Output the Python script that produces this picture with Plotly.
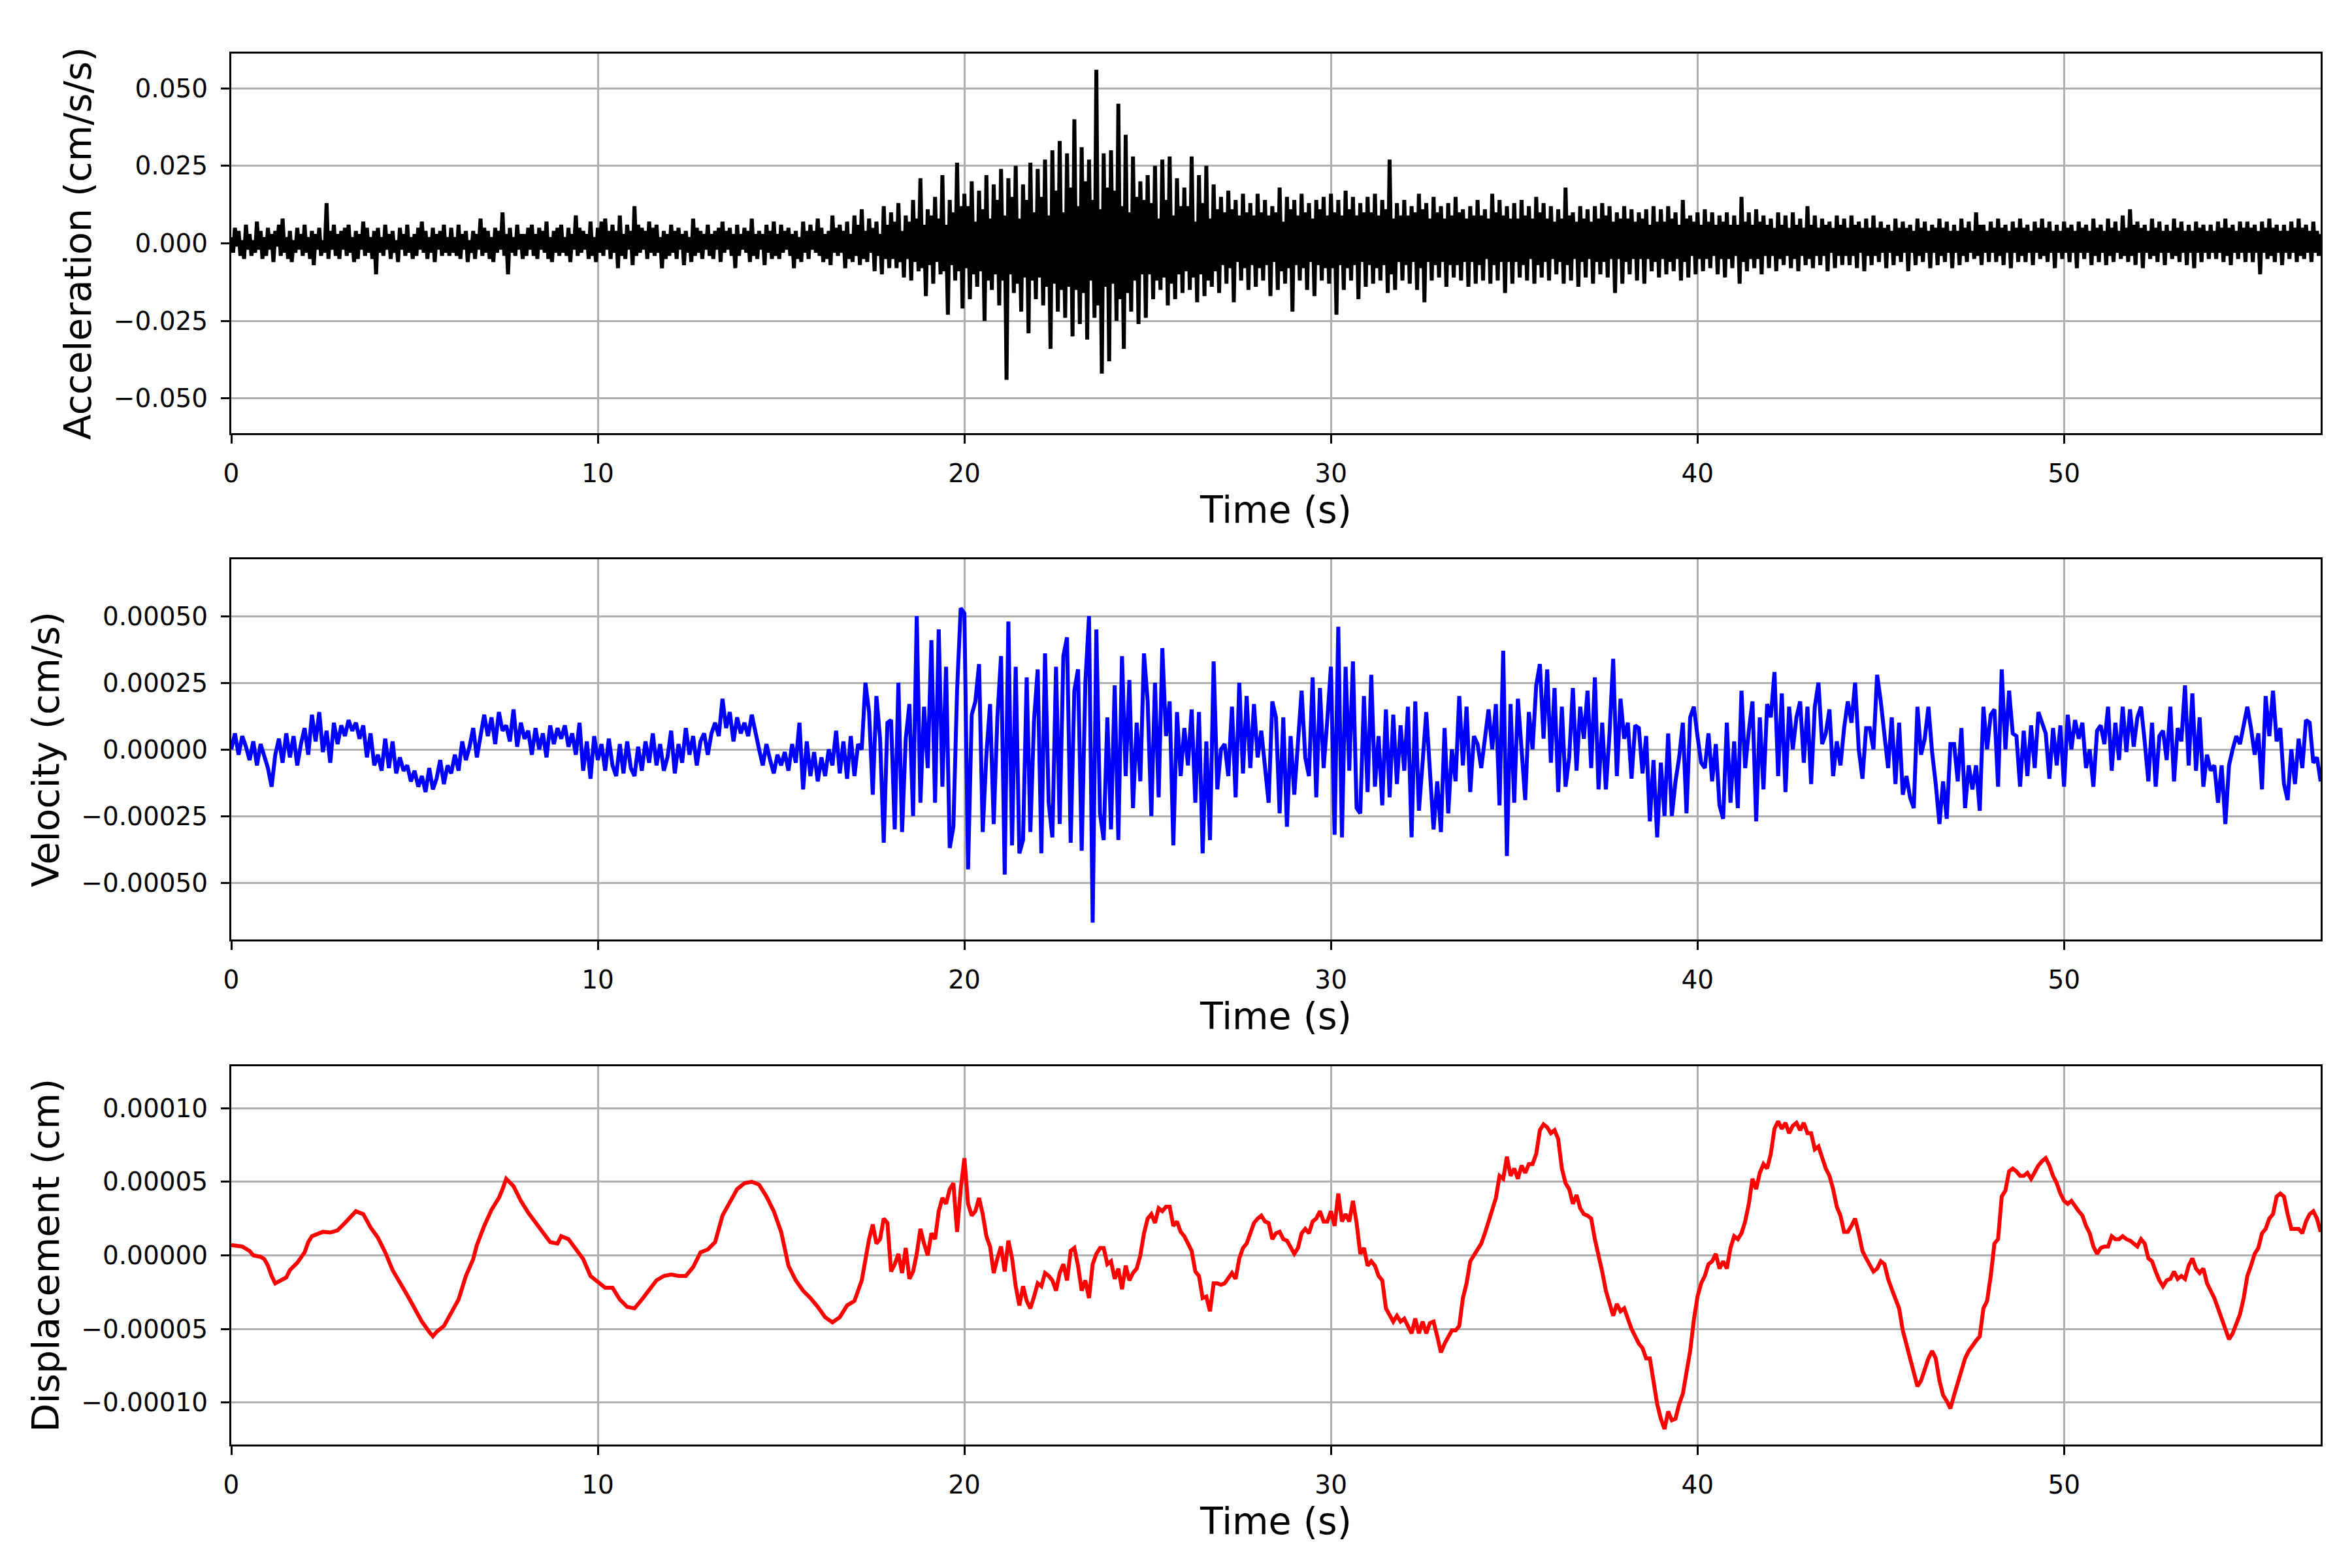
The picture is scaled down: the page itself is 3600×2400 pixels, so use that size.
import numpy as np
import plotly.graph_objects as go

# ---- data (hand-estimated) ----
DT_ACC = 0.05  # s, step of the acceleration readings
DT = 0.1       # s, step of the velocity / late displacement readings

# acceleration, units of 1e-3 cm/s/s, one row per second
ACC_MILLI = [
    2, -3, 5, -1, 4, -4, 1, -5, 6, -2, 3, -4, 1, -3, 7, -2, 4, -5, 2, -4,
    5, -2, 3, -6, 4, -1, 6, -4, 8, -3, 2, -5, 4, -6, 1, -3, 5, -2, 3, -4,
    6, -3, 2, -5, 4, -7, 3, -2, 5, -4, 1, -3, 13, -5, 4, -2, 6, -4, 3, -5,
    4, -2, 5, -4, 6, -3, 2, -6, 4, -5, 3, -2, 7, -4, 5, -3, 2, -5, 4, -10,
    5, -3, 2, -4, 6, -2, 3, -5, 4, -3, 1, -6, 5, -2, 3, -4, 6, -3, 2, -5,
    3, -4, 5, -2, 7, -3, 4, -5, 2, -3, 5, -6, 3, -2, 4, -4, 6, -3, 2, -4,
    5, -3, 2, -4, 6, -5, 3, -2, 4, -6, 1, -3, 4, -5, 3, -2, 8, -4, 5, -3,
    4, -5, 2, -6, 5, -3, 4, -2, 10, -4, 3, -10, 5, -3, 2, -4, 6, -2, 3, -5,
    3, -4, 5, -2, 6, -4, 3, -5, 5, -2, 4, -3, 7, -5, 2, -6, 4, -3, 5, -4,
    6, -3, 2, -4, 5, -6, 3, -2, 9, -4, 5, -3, 4, -2, 3, -5, 7, -4, 2, -6,
    5, -3, 7, -4, 8, -2, 4, -5, 6, -3, 4, -8, 9, -4, 3, -5, 6, -2, 4, -7,
    12, -4, 6, -3, 5, -2, 4, -5, 7, -3, 5, -4, 6, -3, 2, -8, 4, -5, 3, -4,
    6, -3, 4, -5, 5, -2, 3, -7, 4, -3, 2, -6, 8, -4, 5, -3, 4, -5, 3, -2,
    6, -4, 3, -5, 4, -2, 5, -6, 7, -3, 4, -2, 5, -4, 3, -8, 6, -4, 3, -2,
    5, -3, 4, -6, 8, -4, 3, -5, 4, -2, 3, -7, 6, -3, 4, -5, 7, -4, 3, -5,
    6, -3, 4, -2, 5, -4, 3, -8, 4, -5, 2, -6, 7, -3, 4, -5, 6, -2, 4, -3,
    8, -4, 5, -6, 3, -5, 4, -7, 9, -3, 5, -4, 6, -3, 4, -8, 7, -5, 3, -6,
    9, -4, 6, -7, 11, -5, 4, -6, 8, -3, 5, -9, 7, -4, 3, -10, 12, -5, 6, -8,
    10, -5, 7, -8, 13, -6, 4, -11, 9, -5, 7, -12, 14, -6, 8, -9, 21, -8, 6, -17,
    11, -7, 9, -13, 15, -6, 8, -10, 22, -9, 6, -23, 14, -7, 10, -12, 26, -9, 12, -21,
    16, -8, 12, -18, 20, -10, 7, -14, 17, -9, 11, -25, 22, -12, 8, -15, 19, -10, 14, -20,
    24, -12, 9, -44, 21, -10, 15, -16, 25, -13, 8, -22, 19, -11, 14, -29, 26, -12, 10, -18,
    24, -11, 15, -20, 27, -14, 9, -34, 30, -13, 17, -22, 33, -15, 10, -24, 29, -14, 18, -30,
    40, -15, 12, -26, 31, -16, 20, -31, 27, -12, 14, -24, 56, -20, 11, -42, 29, -14, 18, -38,
    30, -13, 17, -25, 45, -18, 12, -34, 35, -16, 10, -22, 28, -12, 15, -26, 20, -10, 14, -24,
    22, -10, 13, -18, 25, -12, 8, -15, 27, -11, 14, -20, 28, -13, 9, -18, 21, -10, 12, -16,
    18, -9, 12, -15, 28, -11, 7, -19, 22, -10, 13, -17, 25, -12, 8, -14, 19, -9, 11, -16,
    15, -7, 10, -13, 17, -8, 11, -19, 14, -6, 9, -12, 16, -8, 10, -15, 13, -7, 9, -14,
    16, -8, 10, -12, 14, -7, 9, -17, 12, -6, 10, -15, 18, -9, 7, -13, 15, -8, 11, -22,
    14, -7, 9, -12, 16, -8, 10, -15, 13, -6, 8, -17, 14, -7, 11, -12, 15, -8, 9, -13,
    16, -8, 10, -23, 14, -7, 9, -15, 17, -8, 11, -12, 15, -7, 9, -18, 13, -6, 10, -14,
    15, -7, 10, -13, 16, -8, 9, -12, 14, -7, 11, -16, 27, -10, 8, -15, 13, -6, 9, -12,
    14, -7, 9, -13, 12, -6, 10, -15, 16, -8, 11, -19, 13, -6, 8, -12, 15, -7, 10, -11,
    12, -6, 8, -14, 13, -7, 9, -11, 15, -7, 10, -12, 11, -6, 8, -14, 12, -6, 9, -13,
    14, -7, 9, -12, 11, -5, 8, -13, 16, -7, 10, -12, 14, -6, 9, -16, 12, -6, 8, -13,
    13, -6, 8, -11, 14, -7, 9, -12, 12, -5, 8, -13, 15, -7, 10, -11, 13, -6, 8, -12,
    12, -5, 7, -10, 11, -6, 8, -13, 18, -7, 9, -12, 10, -5, 7, -14, 12, -6, 8, -11,
    11, -5, 7, -13, 12, -6, 8, -10, 13, -6, 9, -11, 12, -5, 7, -16, 10, -5, 8, -13,
    12, -6, 8, -10, 11, -5, 7, -12, 10, -5, 8, -13, 11, -5, 6, -9, 12, -6, 7, -11,
    11, -5, 7, -10, 12, -6, 8, -9, 10, -5, 6, -12, 14, -6, 8, -11, 9, -4, 7, -10,
    10, -5, 6, -9, 11, -5, 7, -8, 10, -4, 6, -10, 9, -5, 7, -11, 10, -5, 6, -8,
    9, -4, 6, -13, 15, -6, 7, -9, 10, -5, 6, -8, 11, -5, 7, -10, 9, -4, 6, -8,
    8, -4, 5, -9, 10, -5, 6, -7, 9, -4, 5, -8, 10, -5, 6, -9, 8, -4, 5, -7,
    12, -5, 6, -8, 9, -4, 5, -7, 8, -4, 6, -9, 7, -3, 5, -8, 9, -4, 6, -7,
    8, -4, 5, -7, 9, -4, 6, -8, 7, -3, 5, -9, 8, -4, 5, -7, 9, -4, 5, -6,
    7, -3, 5, -8, 6, -3, 4, -7, 8, -4, 5, -6, 7, -3, 5, -9, 6, -3, 4, -7,
    8, -4, 5, -6, 7, -3, 4, -8, 6, -3, 5, -7, 8, -4, 5, -6, 7, -3, 4, -8,
    6, -3, 4, -7, 8, -4, 5, -6, 7, -3, 4, -5, 10, -4, 6, -7, 6, -3, 4, -6,
    7, -3, 5, -6, 8, -4, 5, -7, 6, -3, 4, -8, 7, -3, 5, -6, 8, -4, 5, -6,
    6, -3, 4, -7, 7, -3, 5, -5, 8, -4, 5, -6, 7, -3, 4, -8, 6, -3, 4, -5,
    7, -3, 5, -6, 6, -3, 4, -8, 7, -3, 5, -5, 6, -3, 4, -7, 8, -4, 5, -6,
    6, -3, 4, -7, 8, -4, 5, -6, 7, -3, 4, -5, 9, -4, 5, -6, 11, -4, 6, -7,
    7, -3, 5, -8, 6, -3, 4, -5, 8, -4, 5, -6, 7, -3, 4, -7, 6, -3, 4, -5,
    8, -4, 5, -6, 7, -3, 4, -7, 6, -3, 4, -8, 7, -3, 5, -6, 6, -3, 4, -5,
    6, -3, 4, -5, 7, -3, 5, -6, 8, -4, 5, -7, 6, -3, 4, -5, 7, -3, 5, -6,
    7, -3, 5, -6, 6, -3, 4, -10, 7, -3, 5, -5, 8, -4, 5, -6, 6, -3, 4, -7,
    6, -3, 4, -5, 7, -3, 5, -6, 8, -4, 5, -5, 6, -3, 4, -6, 7, -3, 4, -4,
    3,
]

# velocity, units of 1e-5 cm/s, one row per second
VEL_E5 = [
    0, 6, -2, 5, 1, -4, 3, -6, 2, -3,
    -7, -14, -2, 4, -5, 6, -3, 5, -6, 2,
    8, -2, 13, 3, 14, -1, 7, -5, 10, 2,
    9, 5, 11, 7, 10, 4, 9, -3, 6, -6,
    -2, -8, 4, -7, 3, -9, -3, -8, -6, -12,
    -8, -14, -10, -16, -7, -15, -11, -4, -13, -6,
    -9, -2, -8, 3, -4, 1, 8, -3, 6, 13,
    5, 12, 2, 14, 7, 9, 3, 15, 1, 10,
    4, 7, -2, 8, 0, 6, -3, 9, 2, 8,
    4, 9, 1, 6, -2, 10, -8, 3, -11, 5,
    -4, 2, -8, 4, -6, -10, 2, -9, 3, -7,
    -10, 1, -8, 3, -5, 6, -6, 2, -8, -3,
    7, -9, 2, -5, 8, -2, 5, -6, 3, 6,
    -2, 6, 10, 5, 19, 8, 14, 3, 12, 6,
    10, 5, 13, 6, 0, -6, 2, -4, -9, -2,
    -6, -1, -8, 2, -5, 10, -15, 3, -10, -1,
    -12, -3, -10, 0, -6, 7, -9, 3, -11, 5,
    -10, 2, 0, 25, 14, -17, 20, 4, -35, 10,
    11, -30, 25, -31, 4, 17, -25, 50, -20, 16,
    -7, 41, -20, 45, -14, 31, -37, -29, 22, 53,
    51, -45, 13, 18, 32, -31, -2, 17, -28, 12,
    35, -47, 48, -36, 31, -39, -34, 27, -31, 11,
    30, -39, 36, -20, -33, 31, -28, 35, 42, -35,
    22, 30, -38, 25, 50, -65, 45, -24, -34, 12,
    -30, 24, -34, 35, -10, 26, -22, 10, -12, 36,
    18, -25, 25, -18, 38, 5, 18, -36, 14, -10,
    8, -6, 15, -20, 14, -39, 3, -34, 33, -15,
    0, 2, -10, 16, -18, 25, -9, 20, -7, 17,
    -3, 7, -7, -20, 18, 12, -24, 12, -29, 5,
    -17, 5, 22, -3, -10, 27, -18, 23, -7, 11,
    31, -32, 46, -33, 31, -8, 33, -22, -24, 20,
    -16, 28, -14, 5, -21, 15, -18, 13, -13, 9,
    -8, 16, -33, 18, -23, -5, 14, -8, -30, -12,
    -31, 8, -24, 0, -12, 20, -6, 16, -16, 5,
    2, -7, 3, 15, 0, 17, -21, 37, -40, 17,
    -20, 19, 0, -19, 14, 0, 24, 32, 4, 30,
    -5, 23, -16, 16, -14, -3, 23, -8, 16, 4,
    22, -7, 27, -15, 10, -15, 6, 34, -10, 19,
    4, 10, -11, 9, 8, -9, 5, -27, -4, -33,
    -5, -25, 6, -25, -12, -3, 10, -24, 12, 16,
    5, -5, -7, 6, -12, 2, -21, -26, 10, -20,
    3, -22, 22, -7, 7, 18, -27, 12, -15, 17,
    12, 29, -10, 21, -16, 16, 0, 12, 18, -5,
    16, -13, 16, 25, 2, 6, 15, -10, 3, -6,
    8, 18, 10, 25, 0, -11, 8, 8, 0, 28,
    18, 6, -7, 12, -13, 10, -17, -10, -18, -22,
    16, -2, 4, 16, -1, -13, -28, -12, -26, 2,
    2, -12, 8, -22, -6, -15, -6, -23, 16, 0,
    13, 15, -14, 30, 0, 22, 6, 5, -14, 7,
    -10, 9, -7, 14, 10, 6, -11, 8, -6, 9,
    -14, 13, 0, 11, 4, 10, -7, 0, -14, 7,
    9, 2, 16, -8, 10, -4, 16, -1, 15, 1,
    12, 16, 3, -12, 10, -14, 5, 7, -4, 16,
    -12, 8, 3, 24, -6, 21, -8, 12, -14, -2,
    -8, -6, -20, -6, -28, -6, 0, 5, 2, 10,
    16, 8, -2, 6, -15, 20, 5, 22, 3, 8,
    -13, -19, 0, -13, 4, -7, 11, 10, -5, -3,
    -12,
]

# displacement, units of 1e-5 cm; first part read at irregular times
DISP_T_EARLY = [
    0.0, 0.3, 0.5, 0.6, 0.8, 0.9, 1.0, 1.1, 1.2, 1.4, 1.5, 1.6, 1.8, 2.0,
    2.1, 2.2, 2.5, 2.7, 2.9, 3.1, 3.3, 3.4, 3.6, 3.8, 4.0, 4.2, 4.4, 4.6,
    4.8, 5.0, 5.2, 5.4, 5.5, 5.6, 5.8, 6.0, 6.2, 6.4, 6.6, 6.7, 6.9, 7.1,
    7.3, 7.4, 7.5, 7.7, 7.9, 8.1, 8.3, 8.5, 8.7, 8.9, 9.0, 9.2, 9.4, 9.6,
    9.8, 10.0, 10.2, 10.4, 10.6, 10.8, 11.0, 11.2, 11.4, 11.6, 11.8, 12.0,
    12.2, 12.4, 12.6, 12.8, 13.0, 13.2, 13.4, 13.6, 13.8, 14.0, 14.2, 14.4,
    14.6, 14.8, 15.0, 15.2, 15.4, 15.6, 15.8, 16.0, 16.2, 16.4, 16.6, 16.8,
    17.0, 17.2,
]
DISP_EARLY = [
    0.7, 0.6, 0.3, 0.0, -0.1, -0.25, -0.7, -1.4, -1.9, -1.6, -1.5, -1.0, -0.5, 0.2,
    0.9, 1.3, 1.6, 1.55, 1.7, 2.2, 2.7, 3.0, 2.8, 1.9, 1.2, 0.2, -1.0, -1.8,
    -2.7, -3.6, -4.5, -5.2, -5.5, -5.2, -4.8, -3.9, -3.0, -1.4, -0.25, 0.7, 2.0, 3.1,
    3.9, 4.5, 5.2, 4.7, 3.7, 2.9, 2.2, 1.55, 0.9, 0.8, 1.3, 1.1, 0.4, -0.25,
    -1.4, -1.8, -2.2, -2.2, -3.0, -3.5, -3.6, -3.0, -2.3, -1.7, -1.4, -1.3,
    -1.4, -1.4, -0.8, 0.2, 0.4, 0.9, 2.7, 3.6, 4.5, 4.9, 5.0, 4.8,
    4.0, 3.0, 1.6, -0.7, -1.7, -2.4, -2.9, -3.5, -4.2, -4.55, -4.2, -3.4,
    -3.1, -1.7,
]
DISP_LATE_T0 = 17.4  # rest read every 0.1 s
DISP_LATE = [
    1.1, 2.1, 0.8, 1.1, 2.5, 2.2,
    -1.1, -0.6, 0.1, -1.2, 0.5, -1.6, -1.1, 0.1, 1.8, 0.8,
    0.0, 1.5, 1.1, 3.0, 3.9, 3.5, 4.5, 4.9, 1.6, 4.5,
    6.6, 3.5, 2.7, 3.0, 3.9, 2.8, 1.3, 0.6, -1.2, -0.2,
    0.6, -1.1, 1.0, -0.2, -2.1, -3.4, -2.1, -3.1, -3.6, -2.8,
    -1.9, -2.1, -1.2, -1.4, -1.7, -2.4, -1.2, -0.6, -1.7, 0.3,
    0.5, -0.7, -2.4, -1.7, -2.9, -0.6, 0.1, 0.5, 0.5, -0.6,
    -0.4, -1.6, -0.9, -2.3, -0.7, -1.7, -1.2, -0.9, 0.0, 1.5,
    2.5, 2.8, 2.2, 3.2, 3.0, 3.3, 3.3, 2.0, 2.3, 1.6,
    1.3, 0.8, 0.3, -1.1, -1.4, -2.9, -2.8, -3.8, -1.9, -1.9,
    -2.0, -1.9, -1.6, -1.2, -1.6, -0.2, 0.5, 0.8, 1.5, 2.2,
    2.5, 2.7, 2.3, 2.2, 1.1, 1.5, 1.6, 1.1, 1.0, 0.5,
    0.1, 0.5, 1.5, 1.8, 1.5, 2.3, 2.5, 3.0, 2.3, 2.3,
    3.0, 2.0, 4.2, 2.3, 2.8, 2.3, 3.7, 2.2, 0.1, 0.5,
    -0.7, -0.4, -0.7, -1.4, -1.7, -3.6, -4.1, -4.5, -4.1, -4.5,
    -4.3, -4.8, -5.3, -4.3, -5.3, -4.5, -5.3, -4.6, -4.5, -5.5,
    -6.6, -6.0, -5.5, -5.1, -5.1, -4.8, -2.9, -1.9, -0.4, 0.0,
    0.3, 0.8, 1.5, 2.3, 3.2, 3.9, 5.4, 5.2, 6.7, 5.4,
    5.9, 5.2, 6.1, 5.6, 6.2, 6.2, 6.9, 8.5, 8.9, 8.7,
    8.3, 8.5, 7.9, 5.9, 4.9, 4.5, 3.5, 4.1, 3.2, 2.8,
    2.7, 2.5, 1.1, 0.1, -1.1, -2.4, -3.3, -4.1, -3.3, -3.8,
    -3.6, -4.3, -5.0, -5.5, -6.0, -6.3, -7.0, -7.0, -8.5, -10.1,
    -11.1, -11.8, -10.6, -11.2, -11.1, -10.1, -9.4, -8.0, -6.5, -4.4,
    -2.8, -1.9, -1.4, -0.6, -0.4, 0.1, -0.9, -0.4, -0.9, 0.5,
    1.3, 1.1, 1.5, 2.3, 3.5, 5.2, 4.5, 5.6, 6.2, 5.9,
    6.9, 8.6, 9.1, 8.6, 9.0, 8.3, 8.8, 9.0, 8.5, 9.0,
    8.3, 8.3, 7.2, 7.4, 6.7, 5.9, 5.4, 4.5, 3.3, 2.7,
    1.6, 1.6, 2.0, 2.5, 1.5, 0.3, -0.2, -0.6, -1.1, -0.9,
    -0.4, -0.6, -1.6, -2.3, -2.9, -3.6, -5.1, -6.1, -7.0, -7.9,
    -8.9, -8.5, -7.7, -7.0, -6.5, -7.0, -8.5, -9.5, -9.9, -10.4,
    -9.5, -8.7, -8.0, -7.0, -6.5, -6.1, -5.8, -5.5, -3.6, -3.1,
    -1.4, 0.8, 1.1, 4.0, 4.4, 5.7, 5.9, 5.7, 5.4, 5.4,
    5.6, 5.2, 5.7, 6.1, 6.4, 6.6, 6.1, 5.4, 4.9, 4.2,
    3.7, 3.5, 3.7, 3.3, 3.0, 2.7, 2.0, 1.5, 0.6, 0.1,
    0.5, 0.6, 0.6, 1.3, 1.1, 1.1, 1.3, 1.1, 1.0, 0.8,
    0.6, 1.1, 0.8, -0.2, -0.4, -1.1, -1.7, -2.1, -1.7, -1.6,
    -1.1, -1.6, -1.4, -1.6, -0.7, -0.2, -0.9, -1.2, -0.9, -1.9,
    -2.4, -2.9, -3.6, -4.3, -5.1, -5.7, -5.3, -4.6, -4.0, -2.9,
    -1.4, -0.7, 0.1, 0.5, 1.5, 1.8, 2.5, 2.8, 4.0, 4.2,
    4.0, 2.8, 1.8, 1.8, 1.8, 1.5, 2.3, 2.8, 3.0, 2.5,
    1.6,
]

X_TICKS = [0, 10, 20, 30, 40, 50]
ACC_TICKS = [-0.05, -0.025, 0.0, 0.025, 0.05]
VEL_TICKS = [-0.0005, -0.00025, 0.0, 0.00025, 0.0005]
DISP_TICKS = [-0.0001, -0.00005, 0.0, 0.00005, 0.0001]

# ---- build series ----
acc = np.array(ACC_MILLI) * 1e-3
t_acc = np.arange(len(acc)) * DT_ACC
vel = np.array(VEL_E5) * 1e-5
t_vel = np.arange(len(vel)) * DT
disp = np.concatenate([DISP_EARLY, DISP_LATE]) * 1e-5
t_disp = np.concatenate([DISP_T_EARLY, DISP_LATE_T0 + np.arange(len(DISP_LATE)) * DT])

FONT = "DejaVu Sans"
LW = 6

fig = go.Figure()
fig.add_trace(go.Scatter(x=t_acc, y=acc, mode="lines", line=dict(color="black", width=LW),
                         xaxis="x", yaxis="y", showlegend=False))
fig.add_trace(go.Scatter(x=t_vel, y=vel, mode="lines", line=dict(color="#0000ff", width=LW),
                         xaxis="x2", yaxis="y2", showlegend=False))
fig.add_trace(go.Scatter(x=t_disp, y=disp, mode="lines", line=dict(color="#ff0000", width=LW),
                         xaxis="x3", yaxis="y3", showlegend=False))

common = dict(
    showline=True, mirror=True, linecolor="black", linewidth=3,
    ticks="outside", ticklen=13, tickwidth=3, tickcolor="black",
    showgrid=True, gridcolor="#b0b0b0", gridwidth=3, zeroline=False,
    tickfont=dict(family=FONT, size=39, color="black"),
    ticklabelstandoff=12,
)


def x_axis(anchor):
    return dict(common, range=[0, 57.0], tickvals=X_TICKS, anchor=anchor,
                domain=[0, 1],
                title=dict(text="Time (s)", font=dict(family=FONT, size=57, color="black"),
                           standoff=14))


def y_axis(anchor, dom, rng, ticks, fmt, label):
    return dict(common, range=rng, tickvals=ticks, tickformat=fmt, anchor=anchor,
                domain=dom,
                title=dict(text=label, font=dict(family=FONT, size=57, color="black"),
                           standoff=16))


# page body adds an 8px offset, so margins are shifted up/left by 8px
fig.update_layout(
    width=3600, height=2400,
    margin=dict(l=346, r=56, t=74, b=197),
    paper_bgcolor="white", plot_bgcolor="white",
    xaxis=x_axis("y"),
    xaxis2=x_axis("y2"),
    xaxis3=x_axis("y3"),
    yaxis=y_axis("x", [0.7271, 1.0], [-0.0612, 0.0612], ACC_TICKS, ".3f", "Acceleration (cm/s/s)"),
    yaxis2=y_axis("x2", [0.3631, 0.6364], [-0.000713, 0.000713], VEL_TICKS, ".5f", "Velocity (cm/s)"),
    yaxis3=y_axis("x3", [0.0, 0.2720], [-0.0001285, 0.0001285], DISP_TICKS, ".5f", "Displacement (cm)"),
)

fig.write_html("out.html")
